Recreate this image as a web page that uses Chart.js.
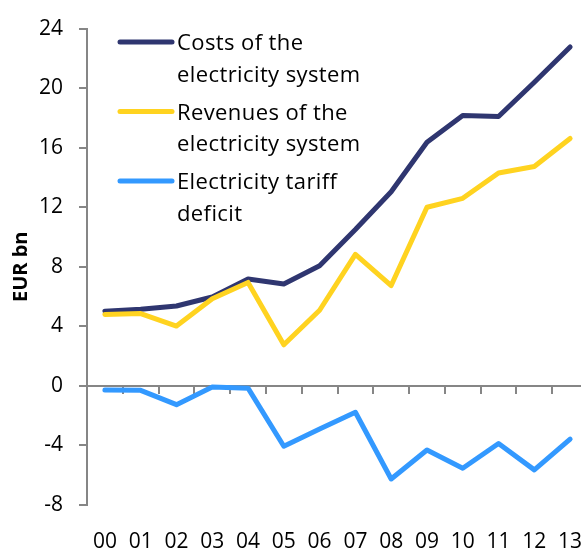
<!DOCTYPE html>
<html><head><meta charset="utf-8">
<script src="https://cdn.jsdelivr.net/npm/chart.js@4.4.1/dist/chart.umd.min.js"></script>
<style>html,body{margin:0;padding:0;background:#fff;overflow:hidden;width:581px;height:549px}</style>
</head><body>
<canvas id="c" width="595" height="549" style="display:block;width:595px;height:549px"></canvas>
<script>
const years = ['00','01','02','03','04','05','06','07','08','09','10','11','12','13'];
const costs = [5.02,5.15,5.37,5.97,7.18,6.85,8.07,10.5,13.04,16.36,18.17,18.1,20.4,22.77];
const revenues = [4.8,4.86,4.02,5.86,6.95,2.76,5.08,8.84,6.74,12.0,12.6,14.3,14.74,16.62];
const deficit = [-0.27,-0.3,-1.26,-0.07,-0.15,-4.05,-2.9,-1.77,-6.25,-4.31,-5.53,-3.87,-5.64,-3.58];
const seriesNames = [['Costs of the','electricity system'],['Revenues of the','electricity system'],['Electricity tariff','deficit']];
const yTicks = [-8,-4,0,4,8,12,16,20,24];
const axisTitle = 'EUR bn';
const colors = ['#2F3670','#FFD320','#3399FF'];
const FONT = 'Open Sans';

const legendPlugin = {
  id: 'lg',
  afterDraw(chart) {
    const ctx = chart.ctx;
    ctx.save();
    ctx.font = '22px "' + FONT + '"';
    try { ctx.letterSpacing = '0.4px'; } catch (e) {}
    ctx.fillStyle = '#000';
    ctx.textBaseline = 'alphabetic';
    chart.data.datasets.forEach((ds, i) => {
      const b = 50 + i * 69.5;
      ctx.strokeStyle = ds.borderColor;
      ctx.lineWidth = 5;
      ctx.lineCap = 'round';
      ctx.beginPath();
      ctx.moveTo(120, b - 8);
      ctx.lineTo(172, b - 8);
      ctx.stroke();
      ds.lines.forEach((t, j) => ctx.fillText(t, 177, b + j * 31.7));
    });
    ctx.restore();
  }
};

function build() {
  const seriesData = [costs, revenues, deficit];
  new Chart(document.getElementById('c'), {
    type: 'line',
    data: {
      labels: years,
      datasets: seriesData.map((d, i) => ({
        label: seriesNames[i].join(' '),
        lines: seriesNames[i],
        data: d,
        borderColor: colors[i],
        backgroundColor: colors[i],
        borderWidth: 5,
        pointRadius: 0,
        tension: 0,
        borderJoinStyle: 'round',
        borderCapStyle: 'round',
        order: i === 0 ? 2 : (i === 1 ? 1 : 0),
        xAxisID: 'x',
        yAxisID: 'y'
      }))
    },
    options: {
      responsive: false,
      animation: false,
      layout: { padding: { left: 0, right: 7, top: 23, bottom: 0 } },
      plugins: { legend: { display: false }, tooltip: { enabled: false } },
      scales: {
        x: {
          type: 'category', labels: years, offset: true, position: 'bottom',
          grid: { display: true, drawOnChartArea: false, drawTicks: true, tickLength: 24, color: 'rgba(0,0,0,0)' },
          border: { display: false },
          ticks: { font: { family: FONT, size: 21 }, color: '#000', padding: 0, maxRotation: 0, autoSkip: false },
          afterFit(s) { s.height = 44; }
        },
        x2: {
          type: 'category', labels: years, offset: true, position: { y: 0 },
          grid: { offset: true, drawOnChartArea: false, drawTicks: true, tickLength: 7, color: '#868686', lineWidth: 2 },
          border: { display: true, color: '#868686', width: 2 },
          ticks: { display: false }
        },
        y: {
          min: yTicks[0], max: yTicks[yTicks.length - 1],
          afterBuildTicks(s) { s.ticks = yTicks.map(v => ({ value: v })); },
          ticks: { font: { family: FONT, size: 21 }, color: '#000', padding: 16 },
          grid: { drawOnChartArea: false, drawTicks: true, tickLength: 8, color: '#868686', lineWidth: 2 },
          border: { display: true, color: '#868686', width: 2 },
          title: { display: true, text: axisTitle, font: { family: FONT, size: 20, weight: 'bold' }, color: '#000', padding: { top: 9, bottom: 0 } },
          afterFit(s) { s.width = 87; }
        }
      }
    },
    plugins: [legendPlugin]
  });
}
if (document.fonts && document.fonts.load) {
  Promise.all([document.fonts.load('21px "' + FONT + '"'), document.fonts.load('bold 20px "' + FONT + '"')]).then(build, build);
} else build();
</script>
</body></html>
